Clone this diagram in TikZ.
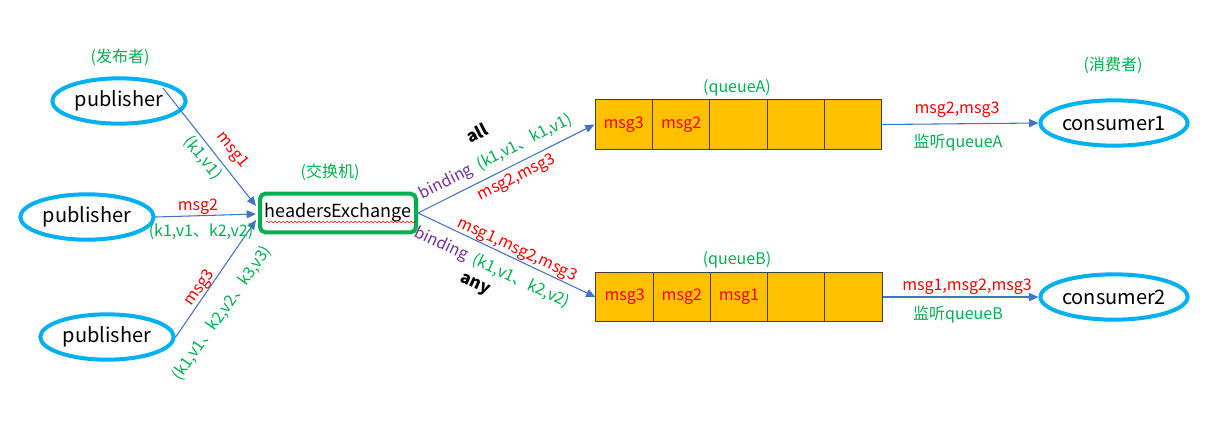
\documentclass[tikz,border=0pt]{standalone}
\usepackage{fontspec}
\setmainfont{Noto Sans CJK SC}
\usetikzlibrary{calc,shapes.geometric,arrows.meta,decorations.pathmorphing}

\definecolor{pubblue}{RGB}{0,176,240}
\definecolor{exgreen}{RGB}{0,176,80}
\definecolor{msgred}{RGB}{255,0,0}
\definecolor{bindpurple}{RGB}{112,48,160}
\definecolor{qfill}{RGB}{255,192,0}
\definecolor{arrowblue}{RGB}{68,114,196}

\tikzset{
  client/.style={ellipse,draw=pubblue,line width=3pt,minimum width=100pt,
    minimum height=34pt,inner sep=0pt,font=\fontsize{15}{18}\selectfont},
  exbox/.style={draw=exgreen,line width=3pt,rounded corners=4pt,
    minimum width=117pt,minimum height=29pt,inner sep=0pt,
    font=\fontsize{13.5}{16}\selectfont},
  cell/.style={draw=black!75,fill=qfill,line width=0.75pt,minimum width=43pt,
    minimum height=36.8pt,inner sep=0pt,text=msgred,
    font=\fontsize{12}{14}\selectfont},
  msg/.style={text=msgred,inner sep=0pt,font=\fontsize{12}{14}\selectfont},
  keys/.style={text=exgreen,inner sep=0pt,font=\fontsize{12}{14}\selectfont},
  mode/.style={inner sep=0pt,font=\fontsize{12.5}{14}\selectfont\bfseries},
  link/.style={draw=arrowblue,line width=0.8pt,
    -{Triangle[length=7pt,width=6pt]}},
}

\begin{document}
\begin{tikzpicture}[x=0.75pt,y=-0.75pt]
  \useasboundingbox (0,0) rectangle (1230,430);

  % publishers
  \node[keys] (pubtitle) at (120,57) {(发布者)};
  \node[client] (pub1) at (119,101) {publisher};
  \node[client] (pub2) at (87,217) {publisher};
  \node[client] (pub3) at (107,337) {publisher};
  \coordinate (pub1out) at (163,88);

  % exchange
  \node[keys] (extitle) at (330,172) {(交换机)};
  \node[exbox] (ex) at (338,213) {headersExchange};
  \draw[msgred,line width=0.4pt,decorate,
    decoration={snake,amplitude=0.6pt,segment length=3pt}]
    ($(ex.west)+(8,9)$) -- ($(ex.east)+(-2,9)$);

  % queues
  \node[keys] (qatitle) at (737,88) {(queueA)};
  \foreach \i/\t in {0/msg3,1/msg2,2/,3/,4/}
    \node[cell] (qa\i) at (623.7+57.4*\i,124.5) {\t};
  \node[keys] (qbtitle) at (737,260) {(queueB)};
  \foreach \i/\t in {0/msg3,1/msg2,2/msg1,3/,4/}
    \node[cell] (qb\i) at (624.6+57.2*\i,297) {\t};

  % consumers
  \node[keys] (constitle) at (1113,65) {(消费者)};
  \node[client] (cons1) at (1114,123) {consumer1};
  \node[client] (cons2) at (1114,297) {consumer2};

  % publisher -> exchange
  \draw[link] (pub1out) -- ($(ex.west)+(-2,-7)$);
  \draw[link] (pub2.east) -- ($(ex.west)+(-2,1)$);
  \draw[link] (pub3.east) -- ($(ex.west)+(-2,7)$);
  \node[msg,rotate=-51] (m1) at (232,150) {msg1};
  \node[keys,rotate=-51] (k1) at (203,158) {(k1,v1)};
  \node[msg] (m2) at (198,207) {msg2};
  \node[keys] (k2) at (201,232) {(k1,v1、k2,v2)};
  \node[msg,rotate=55] (m3) at (200,288) {msg3};
  \node[keys,rotate=55] (k3) at (222,313) {(k1,v1、k2,v2、k3,v3)};

  % exchange -> queues
  \draw[link] (ex.east) -- (qa0.west);
  \draw[link] (ex.east) -- (qb0.west);
  \node[mode,rotate=27] (all) at (477,133) {all};
  \node[keys,rotate=27] (binda) at (496,157)
    {\textcolor{bindpurple}{binding}\ \ (k1,v1、k1,v1)};
  \node[msg,rotate=27] (ma) at (517,178) {msg2,msg3};
  \node[msg,rotate=-25] (mb) at (517,250) {msg1,msg2,msg3};
  \node[keys,rotate=-25] (bindb) at (492,268)
    {\textcolor{bindpurple}{binding}\ \ (k1,v1、k2,v2)};
  \node[mode,rotate=-25] (any) at (475,285) {any};

  % queues -> consumers
  \draw[link] (qa4.east) -- (cons1.west);
  \draw[link] (qb4.east) -- (cons2.west);
  \node[msg] (ca) at (957,110) {msg2,msg3};
  \node[keys] (la) at (958,143) {监听queueA};
  \node[msg] (cb) at (967,287) {msg1,msg2,msg3};
  \node[keys] (lb) at (958,315) {监听queueB};
\end{tikzpicture}
\end{document}
